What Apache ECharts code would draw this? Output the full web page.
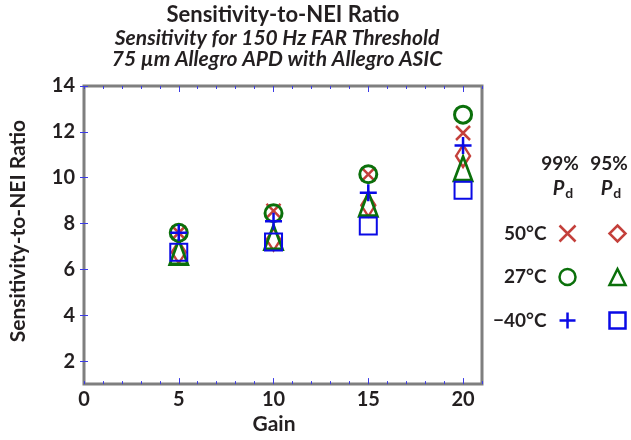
<!DOCTYPE html>
<html><head><meta charset="utf-8">
<script src="https://cdn.jsdelivr.net/npm/echarts@6/dist/echarts.min.js"></script>
<style>html,body{margin:0;padding:0;background:#fff}#c{width:631px;height:440px}</style>
</head><body><div id="c"></div>
<script>
// ---- data ----
const gains = [5, 10, 15, 20];
const xTickLabels = [0, 5, 10, 15, 20];
const yTickValues = [2, 4, 6, 8, 10, 12, 14];
const s50_99 = [7.6, 8.55, 10.15, 11.95];   // 50°C, 99% Pd
const s27_99 = [7.6, 8.45, 10.15, 12.75];   // 27°C, 99% Pd
const sm40_99 = [7.6, 8.1, 9.35, 11.4];     // -40°C, 99% Pd
const s50_95 = [6.75, 7.3, 8.8, 10.95];     // 50°C, 95% Pd
const s27_95 = [6.75, 7.4, 8.85, 10.4];     // 27°C, 95% Pd
const sm40_95 = [6.75, 7.2, 7.9, 9.45];     // -40°C, 95% Pd
const tempLabels = {"50°C 99%": "50°C", "27°C 99%": "27°C", "−40°C 99%": "−40°C"};

const RED = '#c4403b', GREEN = '#0b700b', BLUE = '#0a0ae6';
const FONT = 'Lato';
const TXT = '#231f20';
const TICK = '#3b3be6';
const X_PATH = 'path://M0,0L10,10M10,0L0,10';
const PLUS_PATH = 'path://M5,0L5,10M0,5L10,5';

function pts(arr) { return gains.map((g, i) => [g, arr[i]]); }
function ser(name, arr, symbol, size, color, lw) {
  return {
    name, type: 'scatter', data: pts(arr), symbol, symbolSize: size,
    symbolKeepAspect: false,
    itemStyle: {color: 'none', borderColor: color, borderWidth: lw, opacity: 1},
    emphasis: {disabled: true}, xAxisIndex: 0, yAxisIndex: 0
  };
}

const chart = echarts.init(document.getElementById('c'), null, {renderer: 'canvas'});
const gridRect = {left: 84, top: 86, right: 149, bottom: 53};
const xBase = {type: 'value', min: 0, max: 21, gridIndex: 0};
chart.setOption({
  animation: false,
  backgroundColor: '#fff',
  grid: Object.assign({show: true, borderColor: '#7f7f7f', borderWidth: 3, containLabel: false}, gridRect),
  xAxis: [
    Object.assign({}, xBase, {
      position: 'bottom', interval: 1,
      name: 'Gain', nameLocation: 'middle', nameGap: 27,
      nameTextStyle: {fontFamily: FONT, fontWeight: 'bold', fontSize: 21, color: TXT, padding: [0, 18, 0, 0]},
      axisLine: {show: false}, splitLine: {show: false},
      axisTick: {show: true, inside: true, length: 3, lineStyle: {color: TICK, width: 1}},
      axisLabel: {margin: 5, fontFamily: FONT, fontWeight: 'bold', fontSize: 20, color: TXT,
        formatter: v => (xTickLabels.indexOf(v) >= 0 ? String(v) : '')}
    }),
    Object.assign({}, xBase, {
      position: 'bottom', axisLine: {show: false}, splitLine: {show: false}, axisLabel: {show: false},
      axisTick: {show: true, inside: true, length: 6, customValues: xTickLabels.slice(1), lineStyle: {color: TICK, width: 1}}
    }),
    Object.assign({}, xBase, {
      position: 'top', interval: 1, axisLine: {show: false}, splitLine: {show: false}, axisLabel: {show: false},
      axisTick: {show: true, inside: true, length: 3, lineStyle: {color: TICK, width: 1}}
    }),
    Object.assign({}, xBase, {
      position: 'top', axisLine: {show: false}, splitLine: {show: false}, axisLabel: {show: false},
      axisTick: {show: true, inside: true, length: 6, customValues: xTickLabels.slice(1), lineStyle: {color: TICK, width: 1}}
    })
  ],
  yAxis: [
    {
      type: 'value', min: 1, max: 14, position: 'left',
      name: 'Sensitivity-to-NEI Ratio', nameLocation: 'middle', nameGap: 55, nameRotate: 90,
      nameTextStyle: {fontFamily: FONT, fontWeight: 'bold', fontSize: 21, color: TXT, padding: [0, 0, 0, 8]},
      axisLine: {show: false}, splitLine: {show: false},
      axisTick: {show: true, inside: true, length: 4, customValues: yTickValues, lineStyle: {color: TICK, width: 1}},
      axisLabel: {margin: 9, customValues: yTickValues, fontFamily: FONT, fontWeight: 'bold', fontSize: 20, color: TXT}
    },
    {
      type: 'value', min: 1, max: 14, position: 'right',
      axisLine: {show: false}, splitLine: {show: false}, axisLabel: {show: false},
      axisTick: {show: true, inside: true, length: 4, customValues: yTickValues, lineStyle: {color: TICK, width: 1}}
    }
  ],
  legend: [
    {
      data: ['50°C 99%', '27°C 99%', '−40°C 99%'], orient: 'vertical', align: 'right',
      left: 488, top: 218, itemWidth: 16, itemHeight: 16, itemGap: 22.5,
      itemStyle: {borderWidth: 2.5}, selectedMode: false,
      formatter: n => tempLabels[n],
      textStyle: {fontFamily: FONT, fontWeight: 'bold', fontSize: 19, color: TXT, lineHeight: 16, padding: [0, 8, 0, 0]}
    },
    {
      data: ['50°C 95%', '27°C 95%', '−40°C 95%'], orient: 'vertical', align: 'left',
      left: 602, top: 218, itemWidth: 16, itemHeight: 16, itemGap: 22.5,
      itemStyle: {borderWidth: 2.5}, selectedMode: false,
      formatter: () => '',
      textStyle: {fontSize: 1, lineHeight: 16}
    }
  ],
  graphic: [
    {type: 'text', x: 283, y: 15, style: {text: 'Sensitivity-to-NEI Ratio', align: 'center', verticalAlign: 'middle',
      font: 'bold 22px ' + FONT, fill: TXT}},
    {type: 'text', x: 277, y: 38, style: {text: 'Sensitivity for 150 Hz FAR Threshold', align: 'center', verticalAlign: 'middle',
      font: 'italic bold 21px ' + FONT, fill: TXT}},
    {type: 'text', x: 277, y: 59, style: {text: '75 µm Allegro APD with Allegro ASIC', align: 'center', verticalAlign: 'middle',
      font: 'italic bold 21px ' + FONT, fill: TXT}},
    {type: 'text', x: 560, y: 164, style: {text: '99%', align: 'center', verticalAlign: 'middle', font: 'bold 19px ' + FONT, fill: TXT}},
    {type: 'text', x: 609, y: 164, style: {text: '95%', align: 'center', verticalAlign: 'middle', font: 'bold 19px ' + FONT, fill: TXT}},
    {type: 'text', x: 563, y: 189, style: {text: '{p|P}{d|d}', align: 'center', verticalAlign: 'middle',
      rich: {p: {font: 'italic bold 20px ' + FONT, fill: TXT}, d: {font: 'bold 14px ' + FONT, fill: TXT, padding: [9, 0, 0, 1]}}}},
    {type: 'text', x: 611, y: 189, style: {text: '{p|P}{d|d}', align: 'center', verticalAlign: 'middle',
      rich: {p: {font: 'italic bold 20px ' + FONT, fill: TXT}, d: {font: 'bold 14px ' + FONT, fill: TXT, padding: [9, 0, 0, 1]}}}}
  ],
  series: [
    ser('50°C 95%', s50_95, 'diamond', [14, 22], RED, 2.5),
    ser('27°C 95%', s27_95, 'triangle', [18, 24], GREEN, 3),
    ser('−40°C 95%', sm40_95, 'rect', [17, 17], BLUE, 2),
    ser('50°C 99%', s50_99, X_PATH, [14, 14], RED, 2.5),
    ser('27°C 99%', s27_99, 'circle', [17, 17], GREEN, 3),
    ser('−40°C 99%', sm40_99, PLUS_PATH, [17, 17], BLUE, 2.5)
  ]
});
</script></body></html>
